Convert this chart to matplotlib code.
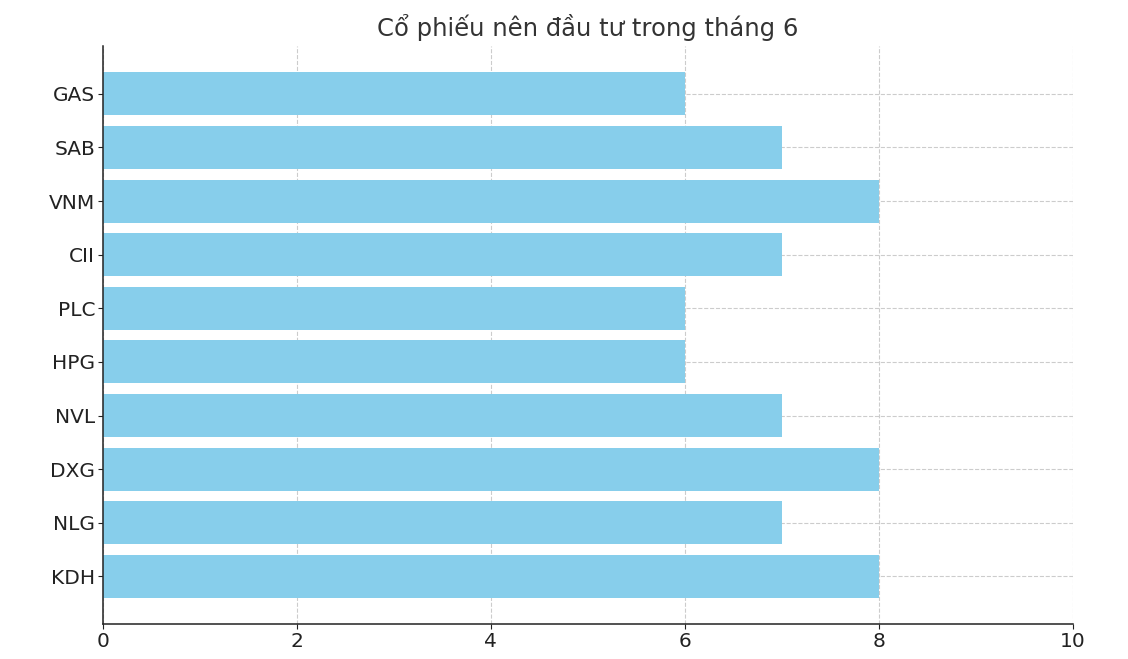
import matplotlib.pyplot as plt

# Dữ liệu
stocks = ["KDH", "NLG", "DXG", "NVL", "HPG", "PLC", "CII", "VNM", "SAB", "GAS"]
scores = [8, 7, 8, 7, 6, 6, 7, 8, 7, 6]
x_ticks = [0, 2, 4, 6, 8, 10]

fig = plt.figure(figsize=(11.28, 6.59), dpi=100)
ax = fig.add_axes([0.0913, 0.053, 0.8597, 0.877])

ax.barh(stocks, scores, color="skyblue", height=0.8, zorder=2)
ax.set_xlim(0, 10)
ax.set_xticks(x_ticks)
ax.grid(True, linestyle="--", color="#cccccc", linewidth=0.8, zorder=0)
ax.set_axisbelow(True)

ax.spines["top"].set_visible(False)
ax.spines["right"].set_visible(False)
ax.spines["left"].set_color("#222222")
ax.spines["bottom"].set_color("#222222")
ax.spines["left"].set_linewidth(1.1)
ax.spines["bottom"].set_linewidth(1.1)
ax.tick_params(labelsize=14.5, colors="#222222", pad=2)
for lbl in ax.get_xticklabels() + ax.get_yticklabels():
    lbl.set_color("#222222")

ax.set_title("Cổ phiếu nên đầu tư trong tháng 6", fontsize=17.5, color="#333333", pad=7)

fig.savefig("out.png", dpi=100)
